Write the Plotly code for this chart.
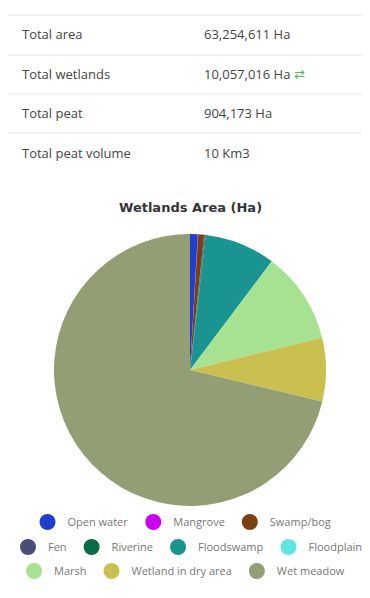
import plotly.graph_objects as go

# Summary table
row_labels = ["Total area", "Total wetlands", "Total peat", "Total peat volume"]
row_values = ["63,254,611 Ha", "10,057,016 Ha", "904,173 Ha", "10 Km3"]

# Pie data
categories = ["Open water", "Mangrove", "Swamp/bog", "Fen", "Riverine",
              "Floodswamp", "Floodplain", "Marsh", "Wetland in dry area", "Wet meadow"]
areas = [92000, 5000, 70000, 10000, 10000, 845000, 2000, 1095000, 760000, 7168016]
colors = ["#1f3fd0", "#cc00ee", "#7a4010", "#4a4d78", "#0b6b43",
          "#1a9490", "#5ee6e2", "#a6e292", "#c9c050", "#949e74"]
legend_rows = [1, 1, 1, 2, 2, 2, 2, 3, 3, 3]

# page has an 8px body margin; figure drawn inside it
OX, OY = 8, 8
W, H = 362, 590


def px(x):
    return (x - OX) / W


def py(y):
    return 1 - (y - OY) / H


fig = go.Figure()

cx, cy, r = 190, 370, 136
fig.add_trace(go.Pie(
    labels=categories, values=areas, sort=False, direction="clockwise", rotation=0,
    marker=dict(colors=colors, line=dict(width=0)),
    textinfo="none", hoverinfo="label+value", showlegend=False,
    domain=dict(x=[px(cx - r), px(cx + r)], y=[py(cy + r), py(cy - r)]),
))

for name, col, row in zip(categories, colors, legend_rows):
    fig.add_trace(go.Scatter(
        x=[None], y=[None], mode="markers", name=name,
        marker=dict(color=col, size=16, symbol="circle"),
        legend="legend" if row == 1 else f"legend{row}", showlegend=True,
    ))

annotations = []
shapes = []
row_y = [34, 74, 113, 153]
line_y = [15, 55, 94, 133]
for ly in line_y:
    shapes.append(dict(type="line", xref="paper", yref="paper",
                       x0=px(8), x1=1, y0=py(ly), y1=py(ly),
                       line=dict(color="#e6e6e6", width=1)))
for i, (lab, val) in enumerate(zip(row_labels, row_values)):
    y = py(row_y[i])
    annotations.append(dict(text=lab, x=px(20), y=y, xref="paper", yref="paper",
                            xanchor="left", yanchor="middle", showarrow=False,
                            font=dict(family="Open Sans", size=13, color="#444")))
    txt = val
    if i == 1:
        txt = val + ' <span style="color:#5cb85c">⇄</span>'
    annotations.append(dict(text=txt, x=px(202), y=y, xref="paper", yref="paper",
                            xanchor="left", yanchor="middle", showarrow=False,
                            font=dict(family="Open Sans", size=13, color="#444")))

annotations.append(dict(text="<b>Wetlands Area (Ha)</b>", x=px(190), y=py(207),
                        xref="paper", yref="paper", xanchor="center", yanchor="middle",
                        showarrow=False,
                        font=dict(family="DejaVu Sans", size=13, color="#333")))

leg_common = dict(orientation="h", xanchor="center", yanchor="middle", x=px(182),
                  font=dict(family="Open Sans", size=11, color="#777"),
                  bgcolor="rgba(0,0,0,0)", itemclick=False, itemdoubleclick=False)

fig.update_layout(
    width=W, height=H,
    margin=dict(l=0, r=0, t=0, b=0),
    paper_bgcolor="white", plot_bgcolor="white",
    xaxis=dict(visible=False), yaxis=dict(visible=False),
    annotations=annotations, shapes=shapes,
    legend=dict(y=py(522), **leg_common),
    legend2=dict(y=py(547), **leg_common),
    legend3=dict(y=py(571), **leg_common),
)

fig.write_html("out.html")
